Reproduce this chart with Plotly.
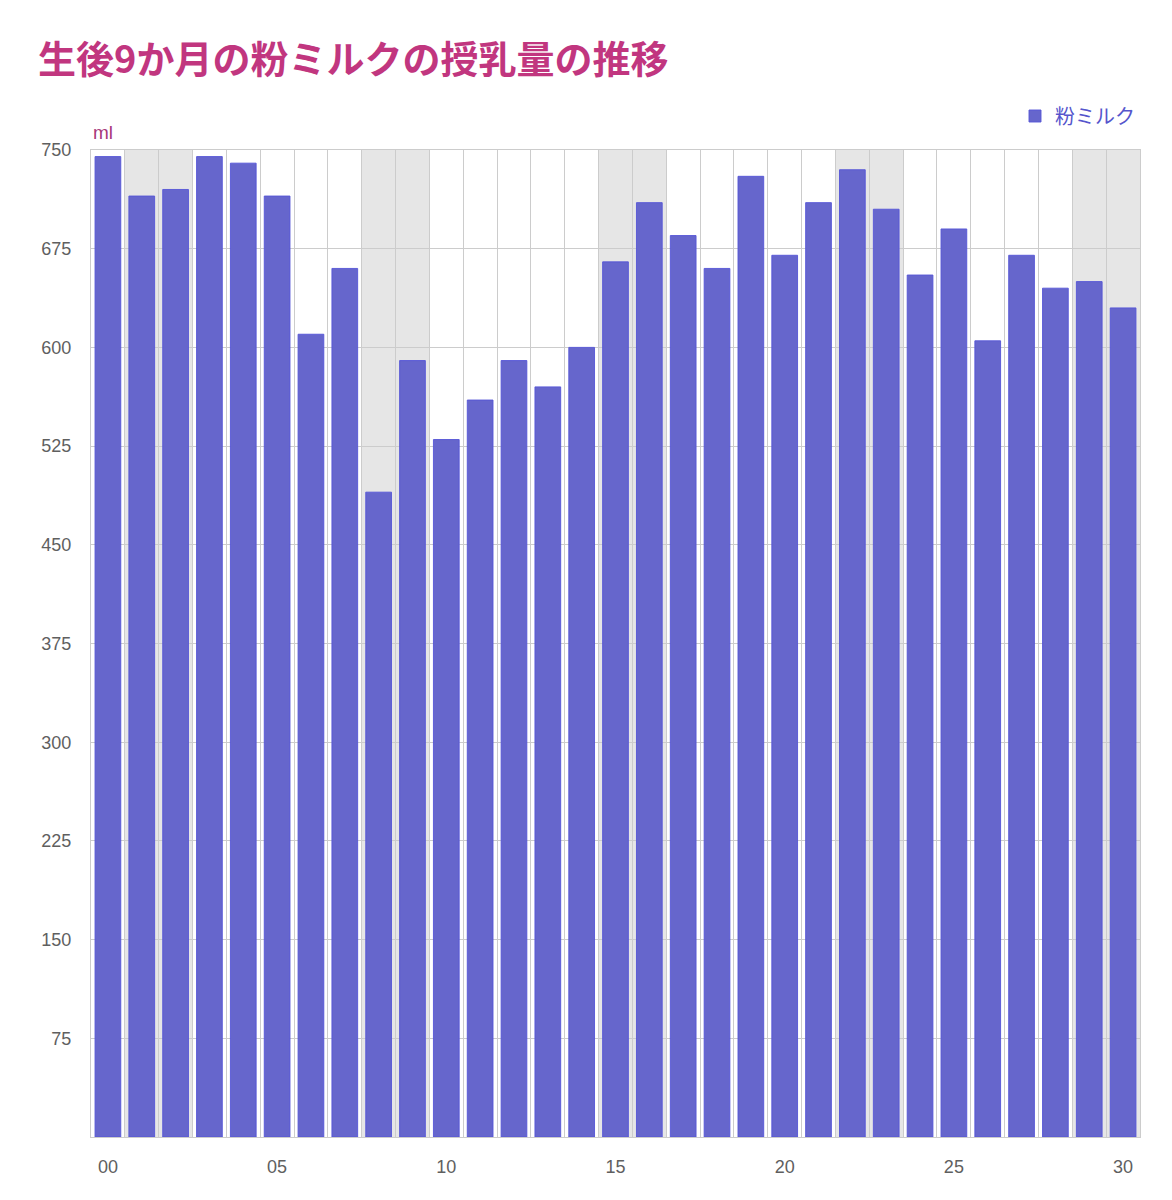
import plotly.graph_objects as go

days = list(range(31))
day_labels = ["00", "05", "10", "15", "20", "25", "30"]
label_days = [0, 5, 10, 15, 20, 25, 30]
milk_ml = [745, 715, 720, 745, 740, 715, 610, 660, 490, 590,
           530, 560, 590, 570, 600, 665, 710, 685, 660, 730,
           670, 710, 735, 705, 655, 690, 605, 670, 645, 650, 630]
shaded_days = [1, 2, 8, 9, 15, 16, 22, 23, 29, 30]
y_ticks = [75, 150, 225, 300, 375, 450, 525, 600, 675, 750]

FONT = "Liberation Sans, Arial, Noto Sans CJK JP, sans-serif"

fig = go.Figure()
fig.add_trace(go.Bar(
    x=days, y=milk_ml, name="粉ミルク",
    width=0.76,
    marker=dict(color="#6666CC", line=dict(color="rgba(85,85,215,0.9)", width=1)),
    showlegend=True,
))

shapes = []
for d in shaded_days:
    shapes.append(dict(type="rect", xref="x", yref="paper", x0=d - 0.5, x1=d + 0.5,
                       y0=0, y1=1, fillcolor="#E6E6E6", line=dict(width=0), layer="below"))

fig.update_layout(
    width=1172, height=1200,
    paper_bgcolor="white", plot_bgcolor="white",
    margin=dict(l=83, r=40, t=142, b=71),
    font=dict(family=FONT, color="#5F5F5F"),
    title=dict(text="<b>生後9か月の粉ミルクの授乳量の推移</b>", x=30 / 1172, xanchor="left",
               xref="container", y=1 - 52 / 1200, yanchor="middle", yref="container",
               font=dict(family="Noto Sans CJK JP, sans-serif", size=38, color="#C1367F")),
    shapes=shapes,
    bargap=0.24,
    legend=dict(x=1, xanchor="right", y=(1137 - 116) / 987, yanchor="middle",
                font=dict(family="Noto Sans CJK JP, sans-serif", size=20, color="#5555CC"),
                bgcolor="rgba(0,0,0,0)", itemwidth=30),
    annotations=[dict(text="ml", xref="paper", yref="paper", x=0, xanchor="left",
                      y=(1137 - 133) / 987, yanchor="middle", showarrow=False,
                      font=dict(family=FONT, size=19, color="#A8387A"))],
)

fig.update_xaxes(
    range=[-0.5, 30.5],
    tickmode="array", tickvals=label_days, ticktext=day_labels,
    showgrid=False, ticks="", ticklabelstandoff=13,
    tickfont=dict(size=18, color="#5F5F5F"),
    showline=True, mirror=True, linecolor="#CCCCCC", linewidth=1,
    minor=dict(tickmode="linear", tick0=-0.5, dtick=1, showgrid=True,
               gridcolor="#CCCCCC", gridwidth=1, ticks=""),
    zeroline=False,
)
fig.update_yaxes(
    range=[0, 750],
    tickmode="array", tickvals=y_ticks,
    showgrid=True, gridcolor="#CCCCCC", gridwidth=1,
    ticks="", ticklabelstandoff=15,
    tickfont=dict(size=18, color="#5F5F5F"),
    showline=True, mirror=True, linecolor="#CCCCCC", linewidth=1,
    zeroline=False,
)

fig.write_html("out.html")
